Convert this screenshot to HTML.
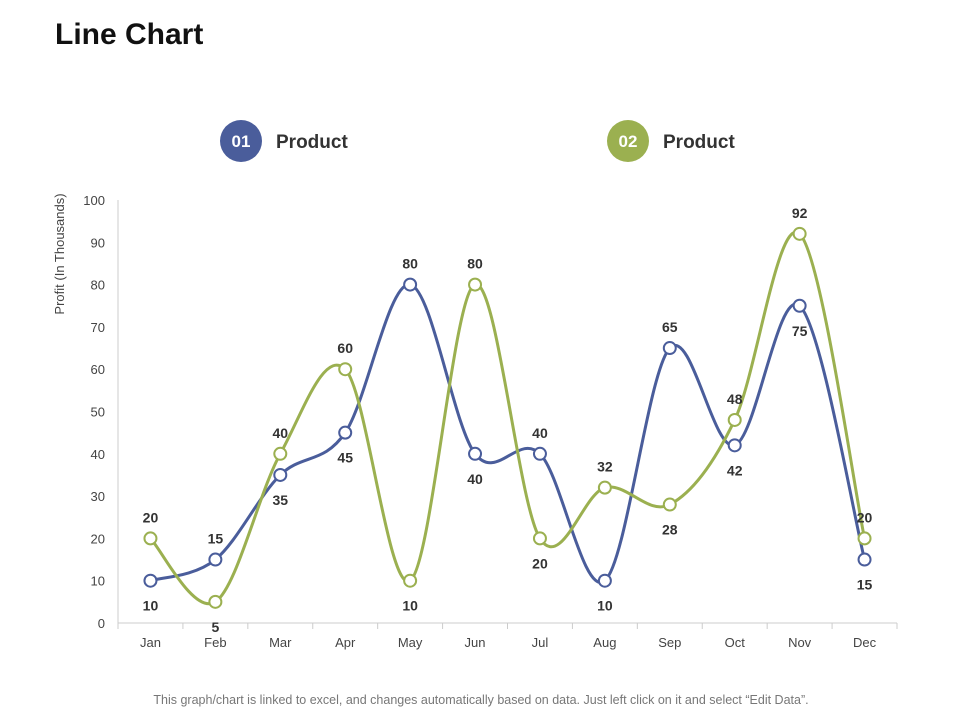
<!DOCTYPE html>
<html><head><meta charset="utf-8"><style>
body{margin:0;width:960px;height:720px;background:#fff;overflow:hidden;font-family:"Liberation Sans Narrow","Liberation Sans",sans-serif}
</style></head><body>
<svg width="960" height="720" xmlns="http://www.w3.org/2000/svg">
<text x="55" y="44" font-size="30" font-weight="bold" fill="#111">Line Chart</text>
<g>
<circle cx="241" cy="141" r="21" fill="#4a5d9b"/>
<text x="241" y="147" text-anchor="middle" font-size="17" font-weight="bold" fill="#fff">01</text>
<text x="276" y="148" font-size="19" font-weight="bold" fill="#333">Product</text>
</g>
<g>
<circle cx="628" cy="141" r="21" fill="#9bb050"/>
<text x="628" y="147" text-anchor="middle" font-size="17" font-weight="bold" fill="#fff">02</text>
<text x="663" y="148" font-size="19" font-weight="bold" fill="#333">Product</text>
</g>
<text transform="translate(64,254) rotate(-90)" text-anchor="middle" font-size="13" fill="#444">Profit (In Thousands)</text>
<g id="axes"></g>
<g id="plot"></g>
<text x="481" y="704" text-anchor="middle" font-size="12.5" fill="#777">This graph/chart is linked to excel, and changes automatically based on data. Just left click on it and select “Edit Data”.</text>
</svg>
<script>
const categories=["Jan","Feb","Mar","Apr","May","Jun","Jul","Aug","Sep","Oct","Nov","Dec"];
const series1=[10,15,35,45,80,40,40,10,65,42,75,15];
const series2=[20,5,40,60,10,80,20,32,28,48,92,20];
const yTicks=[0,10,20,30,40,50,60,70,80,90,100];
const NS="http://www.w3.org/2000/svg";
const X0=118,X1=897,Y0=623,Y1=200;
const bw=(X1-X0)/categories.length;
const xs=i=>X0+bw*(i+0.5);
const ys=v=>Y0-(v/100)*(Y0-Y1);
function mk(t,a,p){const e=document.createElementNS(NS,t);for(const k in a)e.setAttribute(k,a[k]);p.appendChild(e);return e;}
const axes=document.getElementById('axes'),plot=document.getElementById('plot');
let yl=mk('line',{x1:X0,y1:Y1,x2:X0,y2:Y0,stroke:'#ccc'},axes);


yTicks.forEach(t=>{const e=mk('text',{x:105,y:ys(t)+5,'text-anchor':'end','font-size':13,fill:'#444'},axes);e.textContent=t;

});
let xl=mk('line',{x1:X0,y1:Y0,x2:X1,y2:Y0,stroke:'#ccc'},axes);


for(let i=0;i<=categories.length;i++){mk('line',{x1:X0+bw*i,y1:Y0,x2:X0+bw*i,y2:Y0+6,stroke:'#ccc'},axes);}
categories.forEach((c,i)=>{const e=mk('text',{x:xs(i),y:647,'text-anchor':'middle','font-size':13,fill:'#444'},axes);e.textContent=c;

});
function path(vals){const p=vals.map((v,i)=>[xs(i),ys(v)]);let d=`M${p[0][0]},${p[0][1]}`;
for(let i=0;i<p.length-1;i++){const a=p[i-1]||p[i],b=p[i],c=p[i+1],e=p[i+2]||c;
d+=` C${b[0]+(c[0]-a[0])/6},${b[1]+(c[1]-a[1])/6} ${c[0]-(e[0]-b[0])/6},${c[1]-(e[1]-b[1])/6} ${c[0]},${c[1]}`;}return d;}
function draw(vals,other,col,name){
const g=mk('g',{},plot);


mk('path',{d:path(vals),fill:'none',stroke:col,'stroke-width':3},g);
vals.forEach((v,i)=>{const c=mk('circle',{cx:xs(i),cy:ys(v),r:6,fill:'#fff',stroke:col,'stroke-width':2},g);


const above=v>=other[i];
const t=mk('text',{x:xs(i),y:above?ys(v)-16:ys(v)+30,'text-anchor':'middle','font-size':14,'font-weight':'bold',fill:'#333'},g);t.textContent=v;

});}
draw(series1,series2,'#4a5d9b','series-product-01');
draw(series2,series1,'#9bb050','series-product-02');
</script>
</body></html>
